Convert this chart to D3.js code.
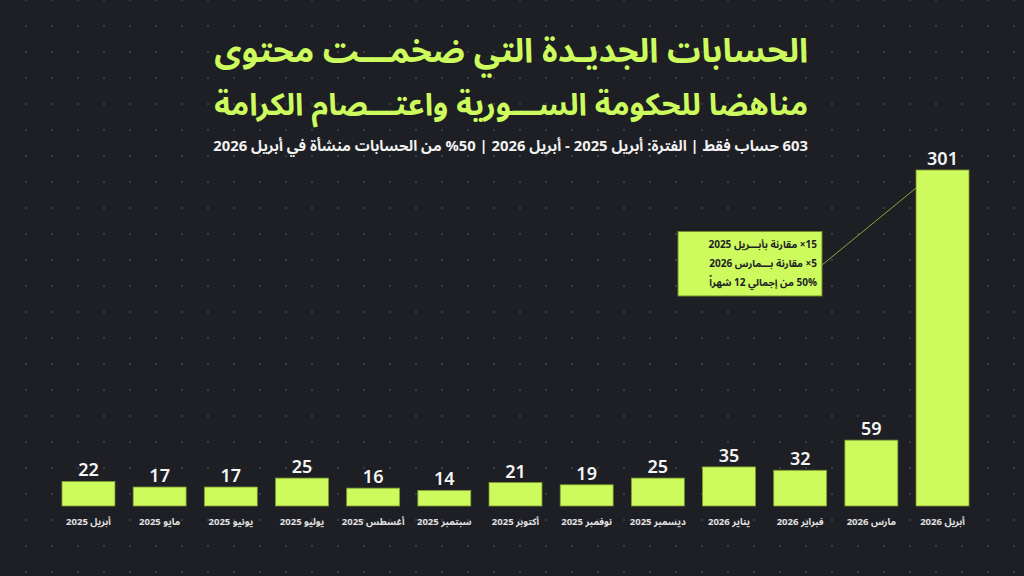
<!DOCTYPE html>
<html>
<head>
<meta charset="utf-8">
<script src="https://cdn.jsdelivr.net/npm/d3@7"></script>
<style>
  html, body { margin: 0; padding: 0; background: #1d1f24; }
  svg { display: block; }
</style>
</head>
<body>
<svg class="chart"></svg>
<script>
var width = 1024,
    height = 576;

// data
var months = ["أبريل 2025", "مايو 2025", "يونيو 2025", "يوليو 2025", "أغسطس 2025", "سبتمبر 2025",
              "أكتوبر 2025", "نوفمبر 2025", "ديسمبر 2025", "يناير 2026", "فبراير 2026", "مارس 2026", "أبريل 2026"];
var counts = [22, 17, 17, 25, 16, 14, 21, 19, 25, 35, 32, 59, 301];

var titleLines = ["الحسابات الجديـدة التي ضخمـــت محتوى", "مناهضا للحكومة الســـورية واعتـــصام الكرامة"];
var subtitle = "603 حساب فقط | الفترة: أبريل 2025 - أبريل 2026 | 50% من الحسابات منشأة في أبريل 2026";
var noteLines = ["15× مقارنة بأبـــريل 2025", "5× مقارنة بـــمارس 2026", "50% من إجمالي 12 شهراً"];

var lime = "#cdfb5e",
    bg = "#1d1f24",
    fontAr = "'Noto Sans Arabic', 'Noto Sans', 'DejaVu Sans', sans-serif";

var svg = d3.select(".chart")
    .attr("width", width)
    .attr("height", height);

svg.append("rect")
    .attr("width", width)
    .attr("height", height)
    .attr("fill", bg);

// dotted background
var dots = [];
for (var gx = 26; gx < width; gx += 26) {
    for (var gy = 0; gy < height; gy += 26) {
        dots.push([gx, gy]);
    }
}
svg.append("g").selectAll("rect")
    .data(dots)
    .enter()
    .append("rect")
    .attr("x", function (d) { return d[0] - 1; })
    .attr("y", function (d) { return d[1] - 1; })
    .attr("width", 2)
    .attr("height", 2)
    .attr("fill", "#383b42");

var x = d3.scaleBand()
    .domain(months)
    .range([62, 969])
    .paddingInner(0.256)
    .paddingOuter(0);

var y = d3.scaleLinear()
    .domain([0, 301])
    .range([506, 170]);

// shrink or grow a line of text to a target width
function fitText(sel, target) {
    var len = sel.node().getComputedTextLength();
    var fs = parseFloat(sel.attr("font-size"));
    var nfs = Math.max(fs * 0.8, Math.min(fs * 1.25, fs * target / len));
    sel.attr("font-size", nfs);
}

var title = svg.append("g");
[62, 115].forEach(function (by, i) {
    var t = title.append("text")
        .attr("x", 808)
        .attr("y", by)
        .attr("direction", "rtl")
        .attr("text-anchor", "start")
        .attr("font-family", fontAr)
        .attr("font-weight", "bold")
        .attr("font-size", 31)
        .attr("fill", lime)
        .text(titleLines[i]);
    fitText(t, 594);
});

var sub = svg.append("text")
    .attr("x", 808)
    .attr("y", 151)
    .attr("direction", "rtl")
    .attr("text-anchor", "start")
    .attr("font-family", fontAr)
    .attr("font-weight", "bold")
    .attr("font-size", 13)
    .attr("fill", "#f2f2f2")
    .text(subtitle);
fitText(sub, 595);

// bars
svg.append("g").selectAll("rect")
    .data(counts)
    .enter()
    .append("rect")
    .attr("x", function (d, i) { return x(months[i]); })
    .attr("y", function (d) { return y(d); })
    .attr("width", x.bandwidth())
    .attr("height", function (d) { return y(0) - y(d); })
    .attr("fill", lime)
    .attr("stroke", "#7f9a30")
    .attr("stroke-width", 0.8);

svg.append("g").selectAll("text")
    .data(counts)
    .enter()
    .append("text")
    .text(function (d) { return d; })
    .attr("x", function (d, i) { return x(months[i]) + x.bandwidth() / 2; })
    .attr("y", function (d) { return y(d) - 5; })
    .attr("text-anchor", "middle")
    .attr("font-family", "'Noto Sans', 'DejaVu Sans', sans-serif")
    .attr("font-weight", 600)
    .attr("font-size", 18)
    .attr("fill", "#f4f4f4");

// month labels
svg.append("g").selectAll("text")
    .data(months)
    .enter()
    .append("text")
    .text(function (d) { return d; })
    .attr("x", function (d) { return x(d) + x.bandwidth() / 2; })
    .attr("y", 525)
    .attr("direction", "rtl")
    .attr("text-anchor", "middle")
    .attr("font-family", fontAr)
    .attr("font-weight", "bold")
    .attr("font-size", 9.5)
    .attr("fill", "#e2e2e2");

// annotation
var last = months[months.length - 1];
svg.append("line")
    .attr("x1", 822)
    .attr("y1", 265)
    .attr("x2", x(last))
    .attr("y2", y(counts[counts.length - 1]) + 18)
    .attr("stroke", "#8da43c")
    .attr("stroke-width", 1);

svg.append("rect")
    .attr("x", 678)
    .attr("y", 231.5)
    .attr("width", 144)
    .attr("height", 64.5)
    .attr("fill", lime)
    .attr("stroke", "#6f8a26")
    .attr("stroke-width", 1);

svg.append("g").selectAll("text")
    .data(noteLines)
    .enter()
    .append("text")
    .text(function (d) { return d; })
    .attr("x", 817)
    .attr("y", function (d, i) { return 248 + i * 19; })
    .attr("direction", "rtl")
    .attr("text-anchor", "start")
    .attr("font-family", fontAr)
    .attr("font-weight", "bold")
    .attr("font-size", 10)
    .attr("fill", "#1d1f24");
</script>
</body>
</html>
